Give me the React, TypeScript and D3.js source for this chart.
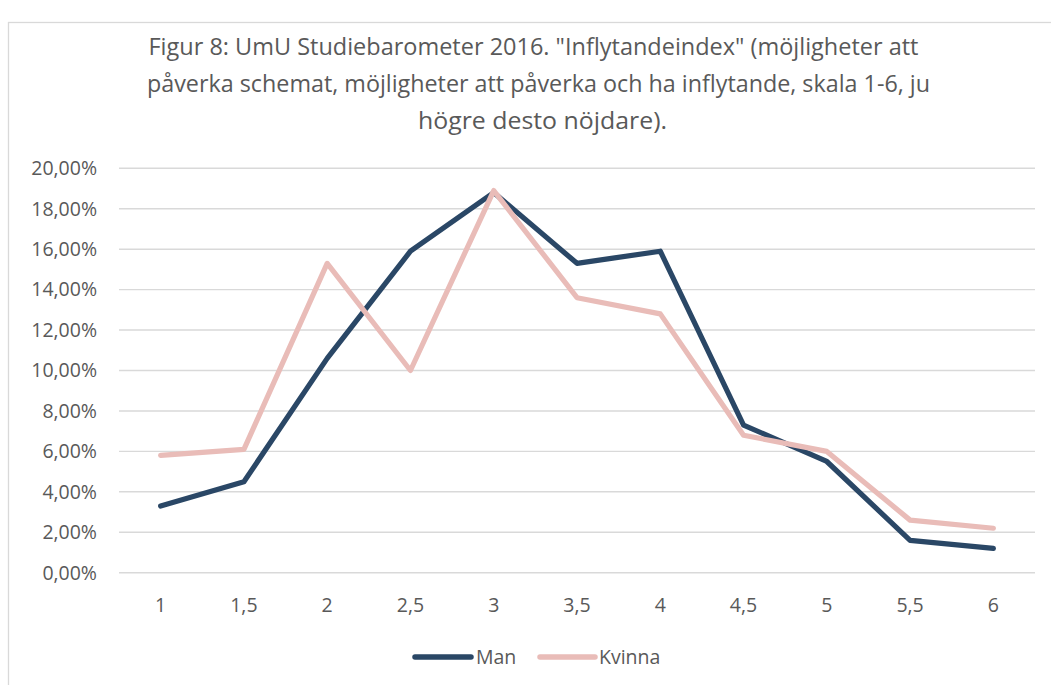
import React from "react";
import * as d3 from "d3";

const categories = ["1", "1,5", "2", "2,5", "3", "3,5", "4", "4,5", "5", "5,5", "6"];
const manValues = [0.033, 0.045, 0.106, 0.159, 0.188, 0.153, 0.159, 0.073, 0.055, 0.016, 0.012];
const kvinnaValues = [0.058, 0.061, 0.153, 0.1, 0.189, 0.136, 0.128, 0.068, 0.06, 0.026, 0.022];
const yTicks = [0, 0.02, 0.04, 0.06, 0.08, 0.1, 0.12, 0.14, 0.16, 0.18, 0.2];
const titleLines = [
  'Figur 8: UmU Studiebarometer 2016. "Inflytandeindex" (möjligheter att',
  "påverka schemat, möjligheter att påverka och ha inflytande, skala 1-6, ju",
  "högre desto nöjdare).",
];
const titleX = [533.5, 538.5, 542.5];
const titleY = [55, 92, 129];
const titleLen = [770, 783, 249];

const W = 1051;
const H = 685;
const FONT = "'Open Sans', sans-serif";
const MAN = "#2A4766";
const KVINNA = "#E9BCB8";
const GRID = "#d9d9d9";
const TEXT = "#595959";

const locale = d3.formatLocale({ decimal: ",", thousands: " ", grouping: [3], currency: ["", " kr"] });
const pct = locale.format(".2%");

export default function App() {
  const x = d3.scalePoint<string>().domain(categories).range([119, 1035]).padding(0.5);
  const y = d3.scaleLinear().domain([0, 0.2]).range([572.7, 168.3]);
  const line = d3
    .line<number>()
    .x((_, i) => x(categories[i]) as number)
    .y((d) => y(d));

  const series = [
    { name: "Man", values: manValues, color: MAN },
    { name: "Kvinna", values: kvinnaValues, color: KVINNA },
  ];

  const legend = [
    { name: "Man", color: MAN, x1: 415, x2: 471, tx: 476 },
    { name: "Kvinna", color: KVINNA, x1: 540, x2: 595, tx: 599 },
  ];

  return (
    <svg
      width={W}
      height={H}
      style={{ position: "absolute", left: 0, top: 0, background: "#fff" }}
      fontFamily={FONT}
    >
      <rect x={0} y={0} width={W} height={H} fill="#fff" />
      <rect x={8.5} y={22.5} width={1200} height={800} fill="none" stroke={GRID} strokeWidth={1.3} />
      {titleLines.map((t, i) => (
        <text
          key={i}
          x={titleX[i]}
          y={titleY[i]}
          textAnchor="middle"
          fontSize={23.5}
          fill={TEXT}
          textLength={titleLen[i]}
          lengthAdjust="spacingAndGlyphs"
        >
          {t}
        </text>
      ))}
      {yTicks.map((t) => (
        <g key={t}>
          <line x1={119} x2={1035} y1={y(t)} y2={y(t)} stroke={GRID} strokeWidth={1.4} />
          <text x={97} y={y(t)} dy="0.35em" textAnchor="end" fontSize={19.5} fill={TEXT}>
            {pct(t)}
          </text>
        </g>
      ))}
      {categories.map((c) => (
        <text key={c} x={x(c)} y={612} textAnchor="middle" fontSize={19.5} fill={TEXT}>
          {c}
        </text>
      ))}
      {series.map((s) => (
        <path
          key={s.name}
          d={line(s.values) || ""}
          fill="none"
          stroke={s.color}
          strokeWidth={5.2}
          strokeLinecap="round"
          strokeLinejoin="round"
        />
      ))}
      {legend.map((l) => (
        <g key={l.name}>
          <line x1={l.x1} x2={l.x2} y1={657} y2={657} stroke={l.color} strokeWidth={5.5} strokeLinecap="round" />
          <text x={l.tx} y={657} dy="0.35em" fontSize={19.5} fill={TEXT}>
            {l.name}
          </text>
        </g>
      ))}
    </svg>
  );
}
